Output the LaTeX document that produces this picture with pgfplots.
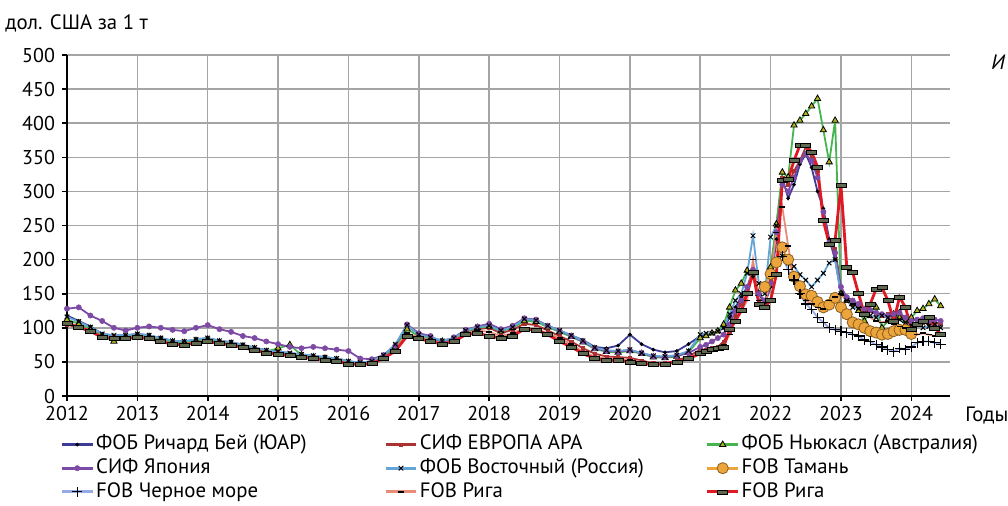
\documentclass[border=0pt]{standalone}
\usepackage{fontspec}
\setmainfont{PT Sans}
\usepackage{pgfplots}
\usepackage{pgfplotstable}
\pgfplotsset{compat=1.18}
\definecolor{cRB}{RGB}{60,60,150}
\definecolor{cARA}{RGB}{170,50,50}
\definecolor{cNC}{RGB}{70,180,80}
\definecolor{cNCf}{RGB}{175,180,30}
\definecolor{cJP}{RGB}{125,75,165}
\definecolor{cVO}{RGB}{100,165,215}
\definecolor{cTA}{RGB}{235,165,60}
\definecolor{cTAd}{RGB}{140,95,30}
\definecolor{cBS}{RGB}{150,170,230}
\definecolor{cR1}{RGB}{230,140,120}
\definecolor{cR2}{RGB}{225,25,35}
\definecolor{cR2f}{RGB}{95,105,80}
\definecolor{cGrid}{RGB}{165,165,165}

\pgfplotstableread{
x rb ara nc jp vo ta bs r1 r2
2012.000 118 105 112 128 116 nan nan 108 106
2012.167 110 100 106 130 109 nan nan 102 101
2012.333 102 95 98 118 101 nan nan 96 95
2012.500 91 85 88 110 91 nan nan 86 86
2012.667 89 86 80 100 89 nan nan 85 85
2012.833 89 86 87 96 89 nan nan 85 84
2013.000 91 88 89 100 91 nan nan 87 86
2013.167 89 86 87 102 89 nan nan 85 84
2013.333 85 82 83 100 85 nan nan 81 80
2013.500 81 78 79 97 81 nan nan 77 76
2013.667 80 77 78 95 80 nan nan 76 75
2013.833 83 80 81 100 83 nan nan 79 78
2014.000 85 82 83 104 85 nan nan 81 80
2014.167 81 79 79 98 81 nan nan 77 77
2014.333 79 77 77 94 79 nan nan 75 75
2014.500 75 73 73 88 75 nan nan 71 71
2014.667 71 69 69 85 71 nan nan 67 67
2014.833 67 65 65 80 67 nan nan 63 63
2015.000 65 63 70 76 65 nan nan 61 61
2015.167 63 61 75 72 63 nan nan 59 59
2015.333 61 59 60 70 61 nan nan 57 57
2015.500 59 57 57 72 59 nan nan 55 55
2015.667 57 55 55 70 57 nan nan 53 53
2015.833 55 53 53 68 55 nan nan 51 51
2016.000 51 47 49 66 51 nan nan 48 47
2016.167 49 47 48 55 49 nan nan 46 46
2016.333 51 49 50 54 51 nan nan 48 48
2016.500 59 56 58 60 60 nan nan 55 55
2016.667 73 68 72 74 76 nan nan 68 66
2016.833 102 90 98 105 104 nan nan 92 88
2017.000 92 86 88 92 90 nan nan 86 84
2017.167 86 82 84 88 86 nan nan 82 80
2017.333 81 78 80 78 81 nan nan 77 76
2017.500 85 82 84 86 85 nan nan 81 80
2017.667 96 93 95 97 96 nan nan 92 90
2017.833 101 98 100 102 101 nan nan 96 92
2018.000 104 100 102 106 103 nan nan 94 88
2018.167 96 92 95 98 96 nan nan 88 85
2018.333 101 97 100 103 101 nan nan 92 88
2018.500 112 106 110 114 113 nan nan 100 98
2018.667 111 104 109 112 111 nan nan 98 97
2018.833 103 96 101 103 103 nan nan 92 90
2019.000 96 88 94 96 96 nan nan 85 80
2019.167 89 80 87 88 89 nan nan 76 72
2019.333 82 70 79 80 81 nan nan 65 62
2019.500 72 62 69 70 71 nan nan 58 55
2019.667 70 58 65 66 67 nan nan 55 52
2019.833 74 57 64 65 66 nan nan 54 52
2020.000 90 56 66 67 68 nan nan 53 50
2020.167 76 52 62 63 63 nan nan 50 48
2020.333 68 48 57 58 59 nan nan 47 46
2020.500 64 48 56 57 58 nan nan 47 47
2020.667 66 52 58 59 60 nan nan 50 50
2020.833 76 58 64 63 66 nan nan 56 55
2021.000 88 68 85 72 90 nan nan 62 62
2021.083 90 68 88 75 92 nan nan 63 65
2021.167 92 70 92 80 92 nan nan 65 68
2021.250 95 72 95 85 95 nan nan 68 70
2021.333 100 80 105 90 100 nan nan 75 72
2021.417 115 95 130 105 120 nan nan 90 98
2021.500 130 118 155 125 140 nan nan 110 110
2021.583 145 135 165 140 150 nan nan 125 125
2021.667 160 150 184 160 180 nan nan 140 150
2021.750 175 185 180 185 235 nan nan 200 181
2021.833 150 140 150 150 165 nan nan 140 135
2021.917 135 132 160 140 150 160 nan 130 130
2022.000 160 170 189 165 233 179 nan 175 140
2022.083 230 250 252 240 250 196 nan 240 179
2022.167 320 320 328 310 205 218 205 277 316
2022.250 290 310 321 300 195 200 185 220 318
2022.333 310 330 397 320 190 175 170 170 345
2022.417 340 345 404 345 178 161 150 150 368
2022.500 355 365 414 355 170 149 135 140 368
2022.583 335 350 425 345 160 147 127 135 358
2022.667 300 330 436 320 170 138 115 130 336
2022.750 275 270 390 270 180 130 108 128 257
2022.833 230 225 343 225 195 134 100 140 223
2022.917 200 215 404 210 200 144 97 145 228
2023.000 150 160 150 160 150 130 95 150 309
2023.083 140 140 140 145 140 120 93 140 189
2023.167 135 135 135 140 130 108 90 135 181
2023.250 130 130 125 135 128 105 88 130 150
2023.333 125 120 110 128 120 100 82 120 120
2023.417 125 125 125 126 118 95 80 115 135
2023.500 120 120 130 122 115 93 75 110 157
2023.583 118 118 100 120 118 90 72 108 159
2023.667 115 120 110 118 115 91 68 110 140
2023.750 120 112 120 120 110 95 65 105 110
2023.833 125 120 115 122 112 97 70 102 145
2023.917 110 110 110 115 108 97 68 100 130
2024.000 105 100 115 110 100 91 72 95 98
2024.083 108 105 125 112 105 nan 78 90 105
2024.167 110 108 128 114 100 nan 80 92 110
2024.250 105 112 135 110 102 nan 80 90 115
2024.333 108 105 142 112 105 nan 78 88 100
2024.417 105 108 132 110 100 nan 76 90 91
}\data

\begin{document}
\begin{tikzpicture}[font=\fontsize{10.4}{12}\selectfont]
\useasboundingbox (-33.5pt,-54.5pt) rectangle (470.5pt,198pt);
\begin{axis}[
  at={(0,0)}, anchor=south west,
  scale only axis, width=441.5pt, height=170.5pt,
  xmin=2012, xmax=2024.55, ymin=0, ymax=500,
  axis lines*=left,
  axis line style={black, line width=1pt},
  xtick={2012,2013,...,2024},
  ytick={0,50,...,500},
  grid=major,
  major grid style={cGrid, line width=0.75pt},
  tick align=outside, major tick length=2.5pt,
  tick style={black, line width=0.8pt},
  /pgf/number format/assume math mode=true,
  x tick label style={/pgf/number format/1000 sep={}, font=\fontsize{10}{12}\selectfont, yshift=1pt},
  y tick label style={font=\fontsize{10}{12}\selectfont},
  legend columns=3,
  legend cell align=left,
  legend image code/.code={\draw[mark repeat=2,mark phase=2] plot coordinates {(0cm,0cm) (0.27cm,0cm) (0.54cm,0cm)};},
  legend image post style={line width=1.5pt},
  legend style={at={(0,0)}, anchor=north west, xshift=-3.5pt, yshift=-18.5pt,
    draw=none, fill=none, inner sep=0pt, row sep=0.6pt,
    font=\fontsize{10.4}{12}\selectfont,
    nodes={inner sep=1pt, text height=7.2pt, text depth=2pt}},
  every axis plot/.append style={line width=0.9pt},
]
\addplot[color=cRB, mark=*, mark size=0.8pt, mark options={black, fill=black, line width=0.3pt}] table[x=x,y=rb]{\data};
\addlegendentry{\makebox[143pt][l]{ФОБ Ричард Бей (ЮАР)}}
\addplot[color=cARA, mark=square*, mark size=0.8pt, mark options={fill=cARA, line width=0.3pt}] table[x=x,y=ara]{\data};
\addlegendentry{\makebox[142pt][l]{СИФ ЕВРОПА АРА}}
\addplot[color=cNC, mark=triangle*, mark size=1.8pt, mark options={draw=black, fill=cNCf, line width=0.4pt}] table[x=x,y=nc]{\data};
\addlegendentry{ФОБ Ньюкасл (Австралия)}
\addplot[color=cJP, mark=*, mark size=1.3pt, mark options={fill=cJP, line width=0.3pt}] table[x=x,y=jp]{\data};
\addlegendentry{\makebox[143pt][l]{СИФ Япония}}
\addplot[color=cVO, mark=x, mark size=1.6pt, mark options={black, line width=0.5pt}] table[x=x,y=vo]{\data};
\addlegendentry{\makebox[142pt][l]{ФОБ Восточный (Россия)}}
\addplot[color=cTA, mark=*, mark size=2.8pt, mark options={draw=cTAd, fill=cTA, line width=0.4pt}] table[x=x,y=ta]{\data};
\addlegendentry{FOB Тамань}
\addplot[color=cBS, mark=+, mark size=2.5pt, mark options={black, line width=0.6pt}] table[x=x,y=bs]{\data};
\addlegendentry{\makebox[143pt][l]{FOB Черное море}}
\addplot[color=cR1, mark=-, mark size=1.5pt, mark options={black, line width=0.8pt}] table[x=x,y=r1]{\data};
\addlegendentry{\makebox[142pt][l]{FOB Рига}}
\addplot[color=cR2, line width=1.4pt, mark=square*, mark size=1pt, mark options={xscale=2.5, draw=black, fill=cR2f, line width=0.3pt}] table[x=x,y=r2]{\data};
\addlegendentry{FOB Рига}
\end{axis}
\node[anchor=west, inner sep=0pt] at (-31pt,186.5pt) {дол. США за 1 т};
\node[anchor=west, inner sep=0pt] at (449pt,-10pt) {Годы};
\node[anchor=west, inner sep=0pt] at (462pt,167pt) {\itshape И};
\end{tikzpicture}
\end{document}
